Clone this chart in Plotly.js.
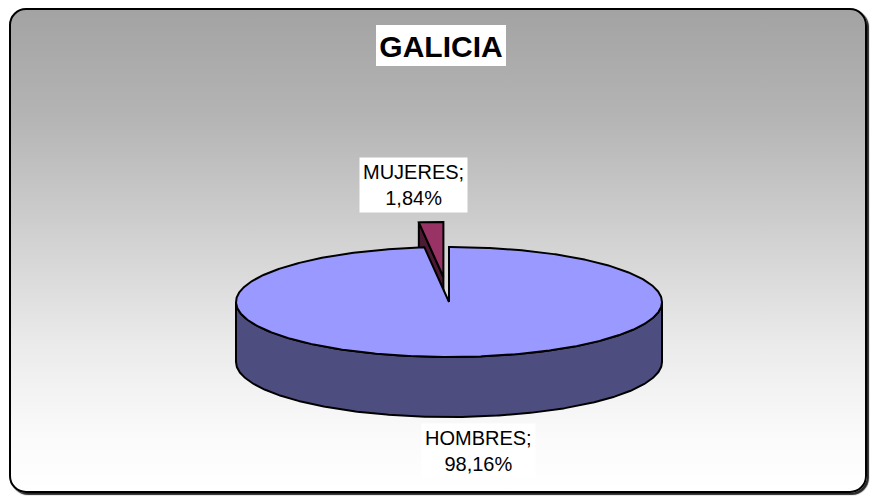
<!DOCTYPE html>
<html>
<head>
<meta charset="utf-8">
<script src="https://cdn.plot.ly/plotly-3.0.1.min.js"></script>
<style>
  html, body { margin: 0; padding: 0; background: #ffffff; }
  #wrap { position: relative; width: 870px; height: 496px; overflow: hidden; }
  #frame {
    position: absolute; left: 9px; top: 8px; width: 854px; height: 481px;
    border: 2px solid #000; border-radius: 17px;
    background: linear-gradient(to bottom, #a3a3a3 0%, #b4b4b4 22%, #d2d2d2 48%, #ebebeb 70%, #fafafa 88%, #ffffff 100%);
    box-shadow: 2px 2px 1px rgba(0,0,0,0.85);
  }
  #chart { position: absolute; left: 0; top: 0; width: 870px; height: 496px; }
</style>
</head>
<body>
<div id="wrap">
  <div id="frame"></div>
  <div id="chart"></div>
</div>
<script>
// ---- data ----
const chartTitle = 'GALICIA';
const categories = ['HOMBRES', 'MUJERES'];
const percents = [98.16, 1.84];

// ---- styles / layout (not data) ----
const topColors  = ['#9999ff', '#993366'];
const sideColors = ['#4d4d80', '#4c1a33'];
const explode = [0, 0.455];          // fraction of radius in ground plane
const labelPos = [[478, 451], [413, 185]];
const geo = { cx: 449, cy: 302, rx: 213, ry: 55, depth: 60 };

const total = percents.reduce((a, b) => a + b, 0);
const DEG = Math.PI / 180;

function rim(c, th) { return [c[0] + geo.rx * Math.sin(th), c[1] - geo.ry * Math.cos(th)]; }
function arc(c, a, b, dy) {
  const n = Math.max(2, Math.ceil(Math.abs(b - a) / (0.5 * DEG)));
  const pts = [];
  for (let i = 0; i <= n; i++) {
    const p = rim(c, a + (b - a) * i / n);
    pts.push([p[0], p[1] + (dy || 0)]);
  }
  return pts;
}
function poly(pts, fill, name) {
  return {
    type: 'scatter', mode: 'lines', fill: 'toself', fillcolor: fill,
    x: pts.map(p => p[0]), y: pts.map(p => p[1]),
    line: { color: '#000', width: 2 }, hoverinfo: 'skip', showlegend: false, name: name
  };
}

// build slice geometry from the values
let cum = 0;
const slices = percents.map((v, i) => {
  const a0 = cum / total * 2 * Math.PI;
  cum += v;
  const a1 = cum / total * 2 * Math.PI;
  const mid = (a0 + a1) / 2;
  const c = [geo.cx + explode[i] * geo.rx * Math.sin(mid), geo.cy - explode[i] * geo.ry * Math.cos(mid)];
  return { i, a0, a1, mid, c };
});
// back slices first
slices.sort((s, t) => (-Math.cos(s.mid)) - (-Math.cos(t.mid)));

const traces = [];
slices.forEach(s => {
  const name = categories[s.i];
  const d = geo.depth;
  // radial face at start angle
  if (Math.sin(s.a0) < -1e-6) {
    const r = rim(s.c, s.a0);
    traces.push(poly([s.c, r, [r[0], r[1] + d], [s.c[0], s.c[1] + d], s.c], sideColors[s.i], name));
  }
  // radial face at end angle
  if (Math.sin(s.a1) > 1e-6) {
    const r = rim(s.c, s.a1);
    traces.push(poly([s.c, r, [r[0], r[1] + d], [s.c[0], s.c[1] + d], s.c], sideColors[s.i], name));
  }
  // outer (front) wall
  const st = Math.max(s.a0, 90 * DEG), en = Math.min(s.a1, 270 * DEG);
  if (en > st) {
    const topA = arc(s.c, st, en, 0);
    const botA = arc(s.c, en, st, d);
    traces.push(poly(topA.concat(botA, [topA[0]]), sideColors[s.i], name));
  }
  // top face
  traces.push(poly([s.c].concat(arc(s.c, s.a0, s.a1, 0), [s.c]), topColors[s.i], name));
});

const annotations = categories.map((cat, i) => ({
  x: labelPos[i][0], y: labelPos[i][1], xref: 'x', yref: 'y',
  text: cat + ';<br>' + percents[i].toFixed(2).replace('.', ',') + '%',
  showarrow: false, bgcolor: '#ffffff', borderpad: 3,
  font: { family: 'Liberation Sans, Arial, sans-serif', size: 20, color: '#000' },
  xanchor: 'center', yanchor: 'middle', align: 'center'
}));

const layout = {
  width: 870, height: 496,
  margin: { l: 0, r: 0, t: 0, b: 0 },
  paper_bgcolor: 'rgba(0,0,0,0)', plot_bgcolor: 'rgba(0,0,0,0)',
  xaxis: { range: [0, 870], visible: false, fixedrange: true },
  yaxis: { range: [496, 0], visible: false, fixedrange: true },
  title: {
    text: '<b>' + chartTitle + '</b>',
    x: 441 / 870, xanchor: 'center', xref: 'paper',
    y: 1 - 46 / 496, yanchor: 'middle', yref: 'paper',
    font: { family: 'Liberation Sans, Arial, sans-serif', size: 30, color: '#000' }
  },
  shapes: [{
    type: 'rect', xref: 'x', yref: 'y', x0: 376, x1: 506, y0: 25, y1: 66,
    fillcolor: '#ffffff', line: { width: 0 }, layer: 'below'
  }],
  annotations: annotations,
  showlegend: false
};

Plotly.newPlot('chart', traces, layout, { staticPlot: true, displayModeBar: false });
</script>
</body>
</html>
